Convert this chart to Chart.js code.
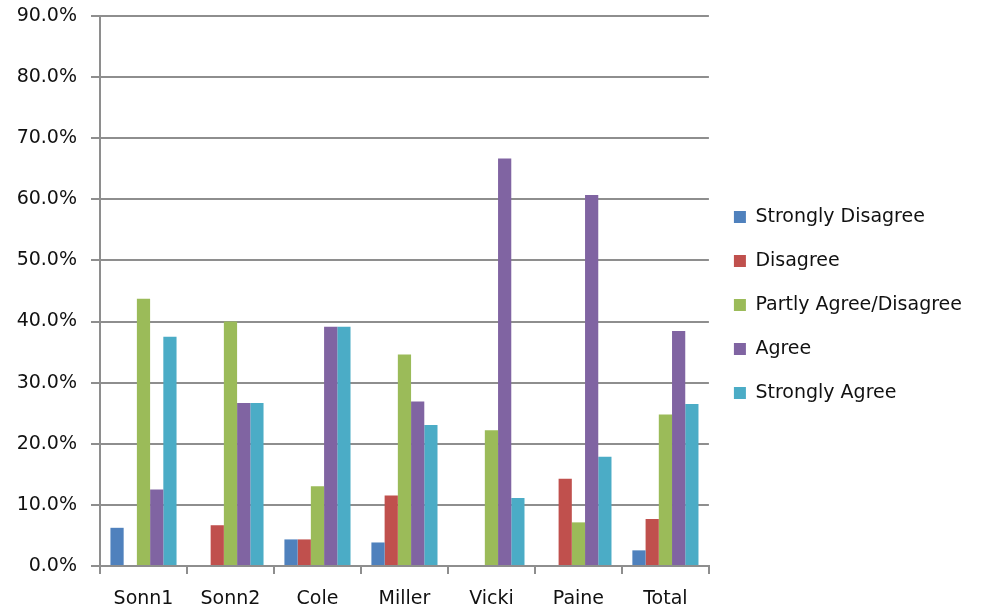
<!DOCTYPE html>
<html>
<head>
<meta charset="utf-8">
<script src="https://cdn.jsdelivr.net/npm/chart.js@4/dist/chart.umd.min.js"></script>
<style>
  html, body { margin: 0; padding: 0; background: #ffffff; overflow: hidden; }
  #wrap { width: 985px; height: 610px; position: relative; overflow: hidden; }
  canvas { display: block; }
</style>
</head>
<body>
<div id="wrap"><canvas id="c"></canvas></div>
<script>
const categories = ['Sonn1', 'Sonn2', 'Cole', 'Miller', 'Vicki', 'Paine', 'Total'];
const seriesNames = ['Strongly Disagree', 'Disagree', 'Partly Agree/Disagree', 'Agree', 'Strongly Agree'];
const stronglyDisagree = [6.25, 0, 4.35, 3.85, 0, 0, 2.56];
const disagree         = [0, 6.67, 4.35, 11.54, 0, 14.29, 7.69];
const partlyAgree      = [43.75, 40.0, 13.04, 34.62, 22.22, 7.14, 24.79];
const agree            = [12.5, 26.67, 39.13, 26.92, 66.67, 60.71, 38.46];
const stronglyAgree    = [37.5, 26.67, 39.13, 23.08, 11.11, 17.86, 26.50];
const yTicks = [0, 10, 20, 30, 40, 50, 60, 70, 80, 90];

const colors = ['#4F81BD', '#C0504D', '#9BBB59', '#8064A2', '#4BACC6'];
const seriesValues = [stronglyDisagree, disagree, partlyAgree, agree, stronglyAgree];

const FONT = 'DejaVu Sans';
const TEXT = '#111111';
const GRID = '#8e8e8e';

new Chart(document.getElementById('c'), {
  type: 'bar',
  data: {
    labels: categories,
    datasets: seriesNames.map((name, i) => ({
      label: name,
      data: seriesValues[i],
      backgroundColor: colors[i],
      borderWidth: 0,
      categoryPercentage: 0.76,
      barPercentage: 1.0
    }))
  },
  options: {
    responsive: true,
    maintainAspectRatio: false,
    animation: false,
    devicePixelRatio: 1,
    layout: { padding: { left: 17, right: 13, top: 0, bottom: 0 } },
    plugins: {
      tooltip: { enabled: false },
      legend: {
        position: 'right',
        align: 'center',
        maxWidth: 320,
        labels: {
          boxWidth: 12,
          boxHeight: 12,
          padding: 25,
          color: TEXT,
          font: { family: FONT, size: 19 }
        }
      }
    },
    scales: {
      x: {
        grid: {
          display: true,
          drawOnChartArea: false,
          drawTicks: true,
          tickLength: 8,
          color: GRID,
          lineWidth: 2,
          offset: true
        },
        border: { display: true, color: GRID, width: 2 },
        ticks: {
          color: TEXT,
          font: { family: FONT, size: 19 },
          padding: 14,
          maxRotation: 0
        },
        afterFit: (scale) => { scale.height = 44; }
      },
      y: {
        min: 0,
        max: 90,
        afterBuildTicks: (scale) => { scale.ticks = yTicks.map(v => ({ value: v })); },
        afterFit: (scale) => { scale.width = 83; scale.paddingTop = 16; scale.paddingBottom = 0; },
        grid: {
          color: GRID,
          lineWidth: 2,
          drawTicks: true,
          tickLength: 9
        },
        border: { display: true, color: GRID, width: 2 },
        ticks: {
          color: TEXT,
          font: { family: FONT, size: 19 },
          padding: 14,
          callback: (v) => Number(v).toFixed(1) + '%'
        }
      }
    }
  }
});
</script>
</body>
</html>
